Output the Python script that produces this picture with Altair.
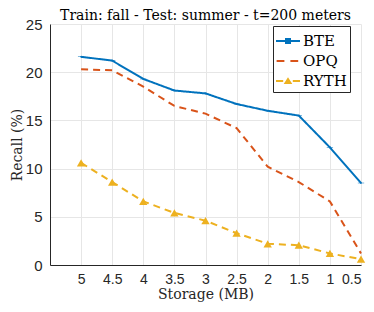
import altair as alt
import pandas as pd

storage = [5, 4.5, 4, 3.5, 3, 2.5, 2, 1.5, 1, 0.5]
bte = [21.6, 21.2, 19.3, 18.1, 17.8, 16.7, 16.0, 15.5, 12.2, 8.5]
opq = [20.3, 20.2, 18.5, 16.5, 15.7, 14.2, 10.2, 8.6, 6.6, 1.2]
ryth = [10.6, 8.6, 6.6, 5.4, 4.6, 3.3, 2.2, 2.05, 1.2, 0.6]
series = ["BTE", "OPQ", "RYTH"]
colors = ["#0072BD", "#D95319", "#EDB120"]
dashes = [[1, 0], [7, 5], [7, 5]]
legend_shapes = [
    "M-1,-0.08H-0.25V-0.25H0.25V-0.08H1V0.08H0.25V0.25H-0.25V0.08H-1Z",
    "M-0.95,-0.08H-0.3V0.08H-0.95ZM0.2,-0.08H0.85V0.08H0.2Z",
    "M-1,-0.08H-0.4V0.08H-1ZM0.4,-0.08H1V0.08H0.4ZM-0.36,0.24L0,-0.32L0.36,0.24Z",
]

rows = []
for name, vals in zip(series, [bte, opq, ryth]):
    for s, v in zip(storage, vals):
        rows.append({"storage": s, "recall": v, "series": name})
df = pd.DataFrame(rows)

x = alt.X(
    "storage:Q",
    scale=alt.Scale(domain=[0.5, 5.5], reverse=True, nice=False, zero=False),
    axis=alt.Axis(values=storage, format="~g", title="Storage (MB)"),
)
y = alt.Y(
    "recall:Q",
    scale=alt.Scale(domain=[0, 25], nice=False),
    axis=alt.Axis(values=[0, 5, 10, 15, 20, 25], title="Recall (%)"),
)
color = alt.Color(
    "series:N",
    scale=alt.Scale(domain=series, range=colors),
    legend=alt.Legend(title=None, orient="none", legendX=223, legendY=2),
)
shape = alt.Shape(
    "series:N",
    scale=alt.Scale(domain=series, range=legend_shapes),
    legend=alt.Legend(title=None, orient="none", legendX=223, legendY=2),
)

lines = alt.Chart(df).mark_line(strokeWidth=2).encode(
    x=x,
    y=y,
    color=color,
    strokeDash=alt.StrokeDash(
        "series:N", scale=alt.Scale(domain=series, range=dashes), legend=None
    ),
)

pts_sq = (
    alt.Chart(df)
    .transform_filter(alt.datum.series == "BTE")
    .mark_point(filled=True, size=40, shape="square", opacity=1)
    .encode(x=x, y=y, color=color, shape=shape)
)
pts_tri = (
    alt.Chart(df)
    .transform_filter(alt.datum.series == "RYTH")
    .mark_point(filled=True, size=70, shape="triangle-up", opacity=1)
    .encode(x=x, y=y, color=color)
)

chart = (
    alt.layer(lines, pts_sq, pts_tri)
    .properties(
        width=311,
        height=241,
        autosize=alt.AutoSizeParams(type="none"),
        padding={"left": 42, "top": 16, "right": 5, "bottom": 39},
        title=alt.Title(
            "Train: fall - Test: summer - t=200 meters",
            font="DejaVu Serif",
            fontSize=14,
            fontWeight="normal",
            color="#000000",
            offset=-6,
        ),
    )
    .configure_view(stroke=None)
    .configure_axis(
        labelFont="Liberation Sans",
        labelFontSize=15,
        labelColor="#262626",
        titleFont="DejaVu Serif",
        titleFontSize=14,
        titleFontWeight="normal",
        titleColor="#262626",
        domainColor="#262626",
        domainWidth=1,
        ticks=False,
        gridColor="#e6e6e6",
        gridWidth=1,
    )
    .configure_axisX(labelPadding=7, titlePadding=1, labelFontSize=14)
    .configure_axisY(labelPadding=8, titlePadding=1)
    .configure_legend(
        labelFont="DejaVu Serif",
        labelFontSize=15,
        labelColor="#000000",
        symbolSize=576,
        symbolStrokeWidth=0,
        strokeColor="#262626",
        fillColor="#ffffff",
        padding=3,
        rowPadding=0,
        labelOffset=3,
        cornerRadius=0,
    )
)

chart.save("out.html", embed_options={"renderer": "svg", "actions": False})
